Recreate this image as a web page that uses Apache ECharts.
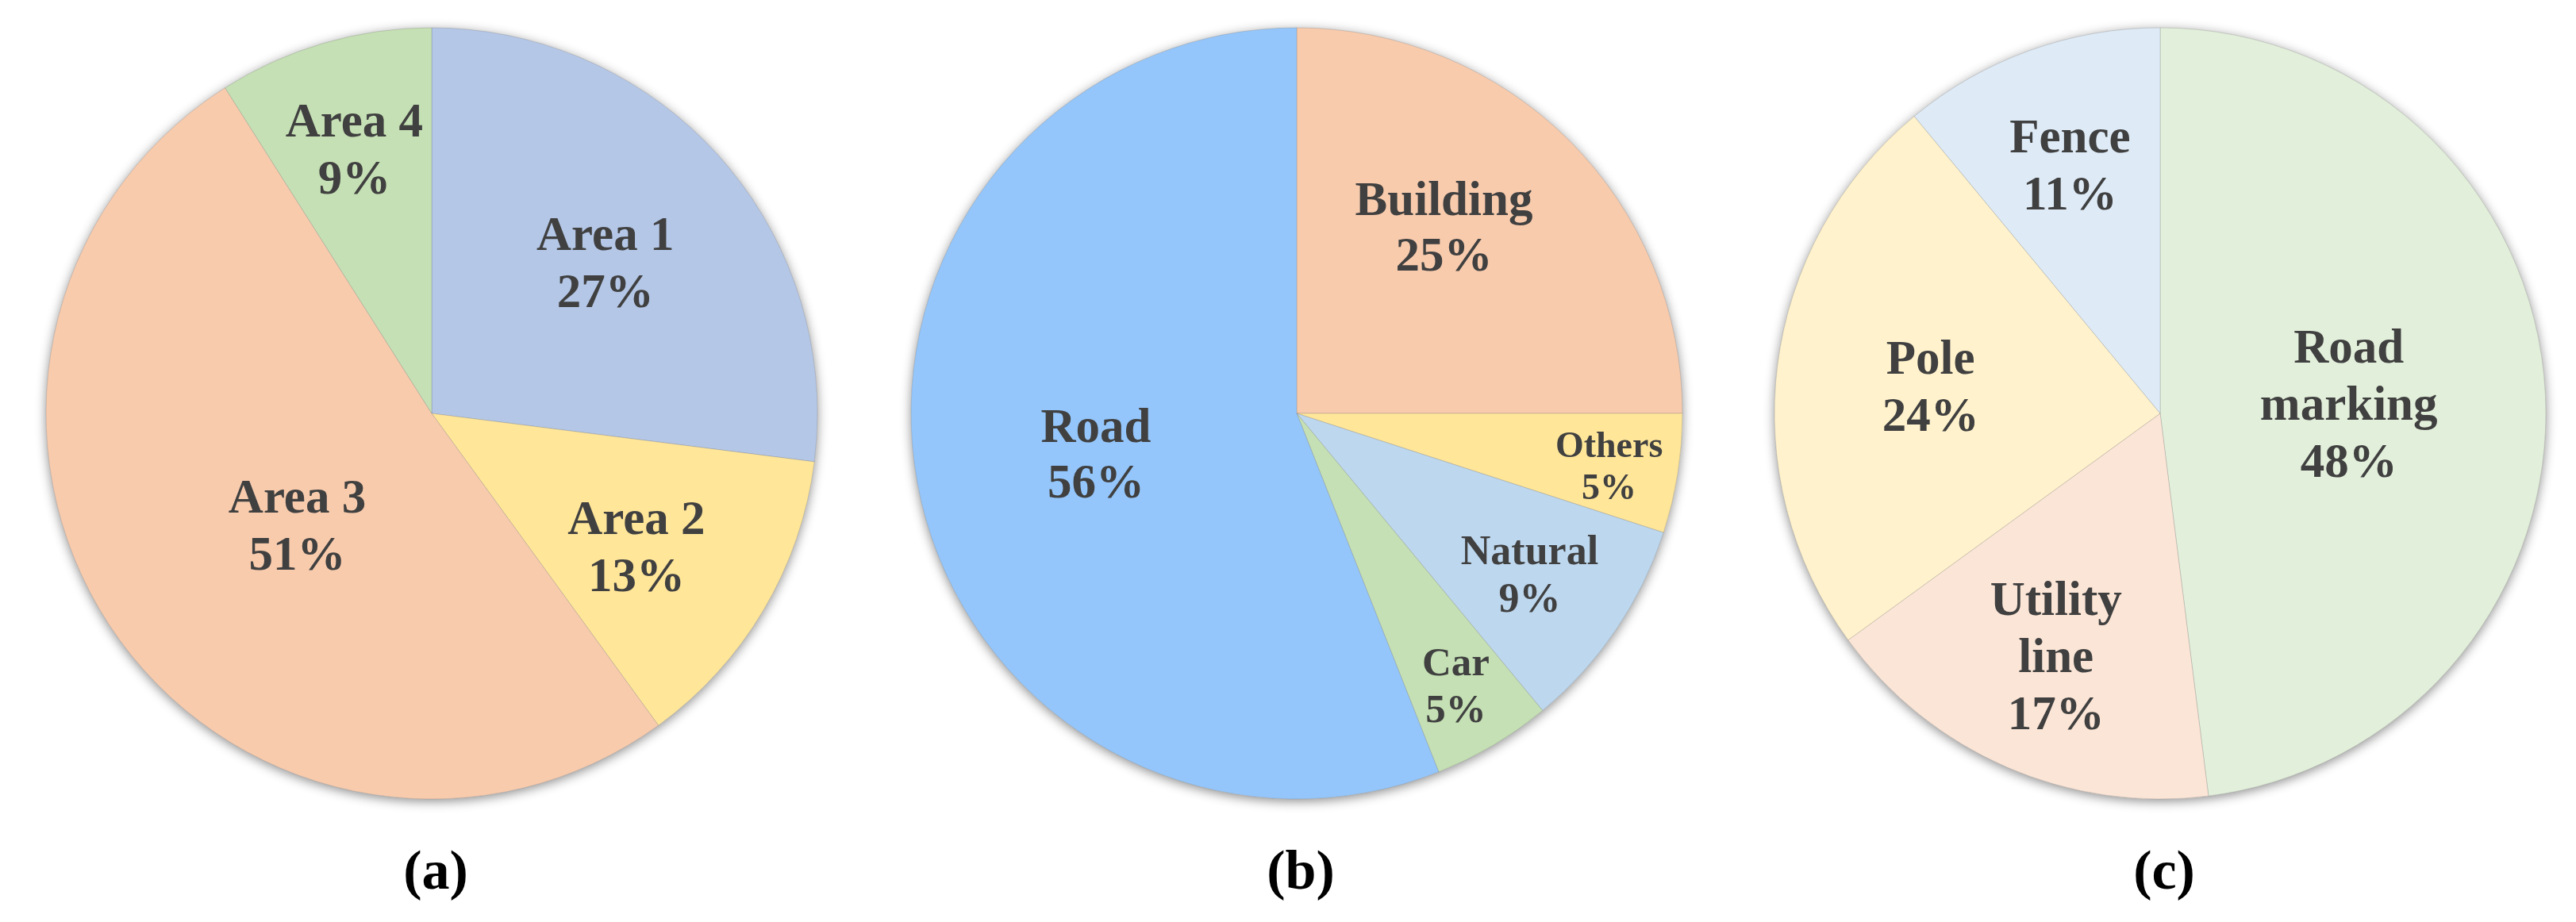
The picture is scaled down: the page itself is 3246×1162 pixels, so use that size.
<!DOCTYPE html>
<html>
<head>
<meta charset="utf-8">
<script src="https://cdn.jsdelivr.net/npm/echarts@6/dist/echarts.min.js"></script>
<style>
html,body{margin:0;padding:0;background:#fff;}
#chart{width:3246px;height:1162px;}
</style>
</head>
<body>
<div id="chart"></div>
<script>
// ---- data ----
const namesA = ['Area 1', 'Area 2', 'Area 3', 'Area 4'];
const valuesA = [27, 13, 51, 9];
const namesB = ['Building', 'Others', 'Natural', 'Car', 'Road'];
const valuesB = [25, 5, 9, 5, 56];
const namesC = ['Road marking', 'Utility line', 'Pole', 'Fence'];
const valuesC = [48, 17, 24, 11];
const panelLabels = ['(a)', '(b)', '(c)'];

// ---- styles ----
const colorsA = ['#B4C7E7', '#FFE699', '#F8CBAD', '#C5E0B4'];
const colorsB = ['#F8CBAD', '#FFE699', '#BDD7EE', '#C5E0B4', '#94C6FB'];
const colorsC = ['#E2EFDA', '#FBE5D6', '#FFF2CC', '#DEEBF7'];
// label placement (Excel best-fit look): radial fraction and angular nudge in degrees
const labelPosA = [0.60, 0.63, 0.45, 0.72];
const labelTurnA = [0, 2, -5, 0];
const labelPosB = [0.62, 0.82, 0.73, 0.81, 0.53];
const labelTurnB = [-7, 0, 0, 0, 0];
const labelPosC = [0.49, 0.68, 0.60, 0.69];
const labelTurnC = [0, 0, 0, 0];
const fontB = [61, 46, 52, 51, 61];

const R = 486;
const CY = 521;
const LABEL_DY = 7;
const centersX = [544, 1634, 2722];
const FONT = '"Liberation Serif", "Times New Roman", serif';

const chart = echarts.init(document.getElementById('chart'));

function shadowPie(cx) {
  return {
    type: 'pie', silent: true, center: [cx, CY], radius: [0, R],
    label: {show: false}, labelLine: {show: false}, animation: false,
    itemStyle: {color: '#ddd', shadowBlur: 14, shadowColor: 'rgba(0,0,0,0.45)', shadowOffsetY: 3},
    data: [{value: 1, name: ''}], z: 1
  };
}

// mid angle (degrees clockwise from 12 o'clock) of every slice, from the values
function midAngles(values) {
  const total = values.reduce((a, b) => a + b, 0);
  let acc = 0;
  return values.map(v => { const m = (acc + v / 2) / total * 360; acc += v; return m; });
}

function dataPie(idx, names, values, colors, wrap, fonts, labelPos, labelTurn) {
  const cx = centersX[idx];
  const mids = midAngles(values);
  return {
    type: 'pie', center: [cx, CY], radius: [0, R],
    startAngle: 90, clockwise: true, animation: false, z: 2,
    avoidLabelOverlap: false, percentPrecision: 0,
    itemStyle: {borderColor: 'rgba(110,110,110,0.25)', borderWidth: 1},
    label: {
      show: true, position: 'outside', overflow: 'none',
      fontFamily: FONT, fontWeight: 'bold', fontSize: 61, lineHeight: 72,
      color: '#404040', align: 'center',
      formatter: p => (wrap ? p.name.replace(' ', '\n') : p.name) + '\n' + p.percent + '%'
    },
    labelLine: {show: false},
    labelLayout: function (params) {
      const i = params.dataIndex;
      const a = (mids[i] + labelTurn[i]) * Math.PI / 180;
      const f = labelPos[i] * R;
      return {
        x: cx + f * Math.sin(a),
        y: CY - f * Math.cos(a) + LABEL_DY,
        align: 'center', verticalAlign: 'middle'
      };
    },
    data: names.map((n, i) => {
      const d = {name: n, value: values[i], itemStyle: {color: colors[i]}};
      if (fonts) d.label = {fontSize: fonts[i], lineHeight: Math.round(fonts[i] * 1.15)};
      return d;
    })
  };
}

chart.setOption({
  backgroundColor: '#fff',
  title: panelLabels.map((t, i) => ({
    text: t, left: centersX[i], top: 1062, textAlign: 'center',
    textStyle: {fontFamily: FONT, fontWeight: 'bold', fontSize: 70, lineHeight: 70, color: '#000'}
  })),
  series: [
    shadowPie(centersX[0]),
    dataPie(0, namesA, valuesA, colorsA, false, null, labelPosA, labelTurnA),
    shadowPie(centersX[1]),
    dataPie(1, namesB, valuesB, colorsB, false, fontB, labelPosB, labelTurnB),
    shadowPie(centersX[2]),
    dataPie(2, namesC, valuesC, colorsC, true, null, labelPosC, labelTurnC)
  ]
});
</script>
</body>
</html>
